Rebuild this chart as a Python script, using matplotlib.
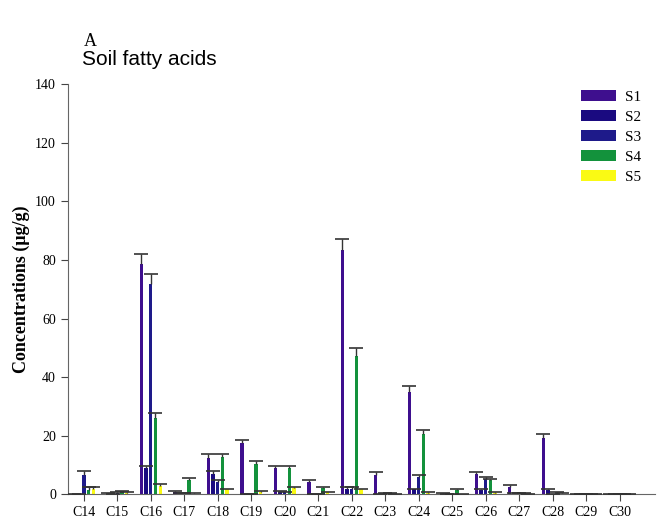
import numpy as np
import matplotlib.pyplot as plt

# carbon chain categories
categories = ['C14', 'C15', 'C16', 'C17', 'C18', 'C19', 'C20', 'C21', 'C22',
              'C23', 'C24', 'C25', 'C26', 'C27', 'C28', 'C29', 'C30']

# mean concentrations (ug/g)
s1 = [0.0, 0.3, 78.5, 0.9, 12.5, 17.5, 9.0, 4.4, 83.5, 6.8, 34.9, 0.2, 6.9, 2.7, 19.4, 0, 0]
s2 = [0.0, 0.2, 9.1, 0.2, 7.1, 0.1, 1.0, 0.1, 1.9, 0.2, 1.7, 0.2, 1.6, 0.3, 1.6, 0, 0]
s3 = [6.7, 0.5, 71.9, 0.2, 4.2, 0.1, 0.8, 0.1, 1.9, 0.3, 5.9, 0.2, 5.2, 0.3, 0.2, 0, 0]
s4 = [1.6, 0.8, 26.2, 5.0, 12.7, 10.5, 9.0, 2.3, 47.3, 0.3, 20.5, 1.4, 4.8, 0.3, 0.5, 0, 0]
s5 = [2.0, 0.5, 3.0, 0.2, 1.7, 0.8, 2.2, 0.7, 1.7, 0.2, 0.5, 0.1, 0.5, 0.2, 0.3, 0, 0]

# upper error (standard deviation)
e1 = [0.0, 0.2, 3.7, 0.2, 1.2, 1.2, 0.7, 0.6, 3.8, 0.7, 2.0, 0.2, 0.8, 0.5, 1.1, 0, 0]
e2 = [0.0, 0.1, 0.7, 0.3, 1.0, 0.1, 0.3, 0.1, 0.5, 0.1, 0.3, 0.1, 0.2, 0.1, 0.2, 0, 0]
e3 = [1.3, 0.2, 3.4, 0.3, 0.8, 0.1, 0.2, 0.1, 0.5, 0.1, 0.7, 0.1, 0.7, 0.1, 0.1, 0, 0]
e4 = [0.9, 0.4, 1.7, 0.6, 1.0, 0.8, 0.7, 0.3, 2.8, 0.1, 1.5, 0.4, 0.4, 0.1, 0.3, 0, 0]
e5 = [0.5, 0.2, 0.6, 0.3, 0.3, 0.3, 0.3, 0.2, 0.3, 0.1, 0.3, 0.1, 0.5, 0.1, 0.1, 0, 0]

labels = ['S1', 'S2', 'S3', 'S4', 'S5']
colors = ['#3e0f8e', '#1a0a80', '#1e1a8a', '#13923c', '#fafa14']

plt.rcParams['font.family'] = 'Liberation Serif'

fig, ax = plt.subplots(figsize=(6.58, 5.26), dpi=100)
fig.subplots_adjust(left=0.103, right=0.995, top=0.84, bottom=0.06)

x = np.arange(len(categories))
step = 0.14
width = 0.1
series = [(s1, e1), (s2, e2), (s3, e3), (s4, e4), (s5, e5)]

for i, (vals, errs) in enumerate(series):
    pos = x + (i - 2) * step
    vals = np.array(vals)
    errs = np.array(errs)
    ax.bar(pos, vals, width, color=colors[i], label=labels[i], zorder=2)
    # upper-only error bars: stem plus a cap on top
    ax.vlines(pos, vals, vals + errs, color='#333333', lw=1, zorder=3)
    ax.plot(pos, vals + errs, ls='none', marker='_', ms=10, mew=1.2,
            color='#333333', zorder=3)

ax.set_xlim(-0.48, 17.05)
ax.set_ylim(0, 140)
ax.set_yticks(range(0, 141, 20))
ax.set_xticks(x)
ax.set_xticklabels(categories)
ax.tick_params(labelsize=10, direction='out', length=5, color='#444444')

ax.spines['top'].set_visible(False)
ax.spines['right'].set_visible(False)
ax.spines['left'].set_color('#666666')
ax.spines['bottom'].set_color('#666666')

ax.set_ylabel('Concentrations (\u03bcg/g)', fontsize=13, fontweight='bold')

fig.text(0.128, 0.922, 'A', fontsize=13, ha='left', va='center')
fig.text(0.124, 0.886, 'Soil fatty acids', fontsize=15, ha='left', va='center',
         family='Liberation Sans')

ax.legend(loc='upper right', frameon=False, fontsize=11, handlelength=2.3,
          handleheight=0.8, handletextpad=0.6, labelspacing=0.38,
          bbox_to_anchor=(1.0, 1.02))

plt.savefig('out.png', dpi=100)
